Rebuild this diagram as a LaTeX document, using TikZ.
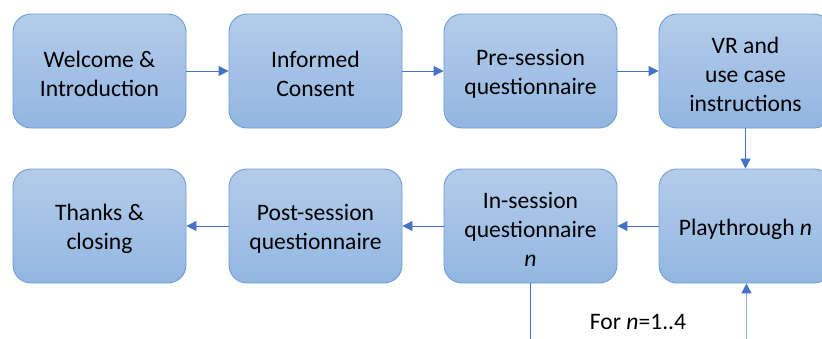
\documentclass[tikz,border=0pt]{standalone}
\usepackage{fontspec}
\setmainfont{Carlito}
\usetikzlibrary{arrows.meta}
\definecolor{boxtop}{RGB}{180,204,234}
\definecolor{boxbot}{RGB}{146,182,225}
\definecolor{boxline}{RGB}{110,158,214}
\definecolor{arr}{RGB}{68,114,196}
\definecolor{arrlight}{RGB}{150,178,226}
\tikzset{
  stepbox/.style={rectangle, rounded corners=18pt, minimum width=173pt, minimum height=114pt,
    top color=boxtop, bottom color=boxbot, draw=boxline, line width=0.9pt, inner sep=0pt},
  boxtext/.style={align=center, font=\fontsize{23.6pt}{29pt}\selectfont, inner sep=0pt, yshift=-3pt},
  flow/.style={draw=arr, line width=0.9pt, -{Triangle[length=10pt,width=10pt]}},
  lbl/.style={font=\fontsize{23.6pt}{29pt}\selectfont, inner sep=0pt}
}
\begin{document}
\begin{tikzpicture}[x=1pt,y=-1pt]
\useasboundingbox (0,0) rectangle (822,338);
\clip (0,0) rectangle (822,338);
\node[stepbox, label={[boxtext]center:Welcome \&\\Introduction}] (welcome) at (99.5,71) {};
\node[stepbox, label={[boxtext]center:Informed\\Consent}] (consent) at (315.5,71) {};
\node[stepbox, label={[boxtext]center:Pre-session\\questionnaire}] (pre) at (530.5,71) {};
\node[stepbox, label={[boxtext]center:VR and\\use case\\instructions}] (vr) at (745.5,71) {};
\node[stepbox, label={[boxtext]center:Thanks \&\\closing}] (thanks) at (99.5,226) {};
\node[stepbox, label={[boxtext]center:Post-session\\questionnaire}] (post) at (315.5,226) {};
\node[stepbox, label={[boxtext]center:In-session\\questionnaire\\\textit{n}}] (insess) at (530.5,226) {};
\node[stepbox, label={[boxtext]center:Playthrough \textit{n}}] (play) at (745.5,226) {};
\coordinate (downend) at (530.5,345);
\coordinate (upstart) at (746.5,345);
\node[lbl] (loop) at (638,322) {For \textit{n}=1..4};
\draw[flow] (welcome) -- (consent);
\draw[flow] (consent) -- (pre);
\draw[flow] (pre) -- (vr);
\draw[flow] (vr) -- (play);
\draw[flow] (play) -- (insess);
\draw[flow] (insess) -- (post);
\draw[flow] (post) -- (thanks);
\draw[draw=arr, line width=0.9pt] (insess.south) -- (downend);
\draw[draw=arrlight, line width=1.2pt, -{Triangle[length=10pt,width=10pt,fill=arr,color=arr]}] (upstart) -- (play.south -| upstart);
\end{tikzpicture}
\end{document}
